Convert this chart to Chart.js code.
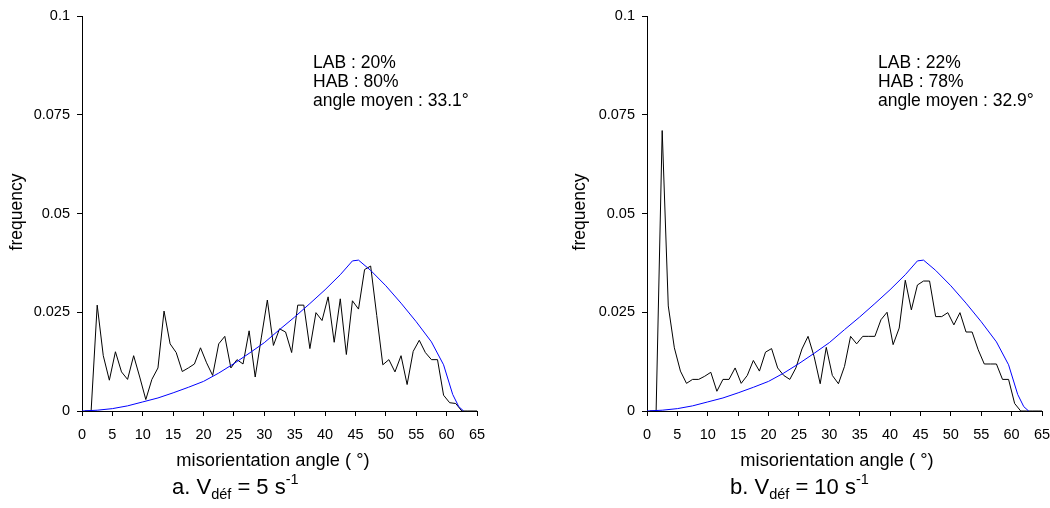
<!DOCTYPE html>
<html>
<head>
<meta charset="utf-8">
<script src="https://cdn.jsdelivr.net/npm/chart.js@4.4.1/dist/chart.umd.min.js"></script>
<style>
  html, body { margin: 0; padding: 0; background: #fff; overflow: hidden; }
  .panel { position: absolute; top: 0; width: 525px; height: 508px; }
</style>
</head>
<body>
<div class="panel" style="left:0"><canvas id="chartA" width="525" height="508"></canvas></div>
<div class="panel" style="left:525px"><canvas id="chartB" width="525" height="508"></canvas></div>
<script>
// bin centres of the misorientation histograms (degrees)
const binCenters = [
  0.5, 1.5, 2.5, 3.5, 4.5, 5.5, 6.5, 7.5, 8.5, 9.5,
  10.5, 11.5, 12.5, 13.5, 14.5, 15.5, 16.5, 17.5, 18.5, 19.5,
  20.5, 21.5, 22.5, 23.5, 24.5, 25.5, 26.5, 27.5, 28.5, 29.5,
  30.5, 31.5, 32.5, 33.5, 34.5, 35.5, 36.5, 37.5, 38.5, 39.5,
  40.5, 41.5, 42.5, 43.5, 44.5, 45.5, 46.5, 47.5, 48.5, 49.5,
  50.5, 51.5, 52.5, 53.5, 54.5, 55.5, 56.5, 57.5, 58.5, 59.5,
  60.5, 61.5, 62.5, 63.5, 64.5
];

// a. V = 5 s-1
const freqA = [
  0, 0, 0.0268, 0.0140, 0.0078, 0.0150, 0.0099, 0.0080, 0.0140, 0.0086,
  0.0029, 0.0080, 0.0109, 0.0253, 0.0170, 0.0148, 0.0100, 0.0109, 0.0119, 0.0160,
  0.0122, 0.0090, 0.0170, 0.0189, 0.0109, 0.0130, 0.0119, 0.0203, 0.0086, 0.0185,
  0.0281, 0.0166, 0.0208, 0.0200, 0.0148, 0.0268, 0.0268, 0.0158, 0.0249, 0.0229,
  0.0289, 0.0174, 0.0284, 0.0143, 0.0279, 0.0258, 0.0358, 0.0367, 0.0242, 0.0117,
  0.0130, 0.0099, 0.0140, 0.0067, 0.0151, 0.0179, 0.0148, 0.0130, 0.0130, 0.0040,
  0.0021, 0.0019, 0, 0, 0
];

// b. V = 10 s-1
const freqB = [
  0, 0, 0.0710, 0.0266, 0.0160, 0.0101, 0.0070, 0.0080, 0.0080, 0.0088,
  0.0098, 0.0050, 0.0080, 0.0080, 0.0109, 0.0070, 0.0090, 0.0128, 0.0101, 0.0149,
  0.0158, 0.0109, 0.0090, 0.0080, 0.0109, 0.0157, 0.0189, 0.0138, 0.0069, 0.0161,
  0.0090, 0.0069, 0.0113, 0.0189, 0.0170, 0.0189, 0.0189, 0.0189, 0.0231, 0.0250,
  0.0168, 0.0210, 0.0331, 0.0256, 0.0319, 0.0329, 0.0329, 0.0239, 0.0239, 0.0249,
  0.0218, 0.0249, 0.0200, 0.0200, 0.0155, 0.0119, 0.0119, 0.0119, 0.0080, 0.0080,
  0.0019, 0, 0, 0, 0
];

// random (Mackenzie) distribution, blue curve
const mackAngles = [0, 2.5, 5, 7.5, 10, 12.5, 15, 17.5, 20, 22.5, 25, 27.5, 30, 32.5, 35, 37.5,
  40, 42.5, 44.5, 45.5, 47.5, 50, 52.5, 55, 57.5, 59.5, 61, 62, 62.8];
const mackFreq = [0, 0.0002, 0.0006, 0.0013, 0.0023, 0.0033, 0.0046, 0.0060, 0.0075, 0.0096,
  0.0120, 0.0146, 0.0173, 0.0206, 0.0238, 0.0272, 0.0307, 0.0345, 0.0380, 0.0382,
  0.0356, 0.0317, 0.0273, 0.0226, 0.0175, 0.0117, 0.0042, 0.0011, 0];

const yTicks = [0, 0.025, 0.05, 0.075, 0.1];
const xTitle = 'misorientation angle ( \u00b0)';
const yTitle = 'frequency';

const FONT = '"Liberation Sans", Arial, sans-serif';

// draws the axis titles, the LAB/HAB note and the caption
const textPlugin = {
  id: 'panelText',
  afterDraw(chart, args, opts) {
    const ctx = chart.ctx;
    ctx.save();
    ctx.fillStyle = '#000';

    // y title
    ctx.save();
    ctx.translate(opts.yTitleX, 212);
    ctx.rotate(-Math.PI / 2);
    ctx.font = '17.5px ' + FONT;
    ctx.textAlign = 'center';
    ctx.textBaseline = 'middle';
    ctx.fillText(yTitle, 0, 0);
    ctx.restore();

    // x title
    ctx.font = '18.3px ' + FONT;
    ctx.textAlign = 'center';
    ctx.textBaseline = 'alphabetic';
    ctx.fillText(xTitle, opts.xTitleX, 466);

    // note
    ctx.font = '17.5px ' + FONT;
    ctx.textAlign = 'left';
    opts.note.forEach((line, i) => ctx.fillText(line, opts.noteX, 68 + i * 19));

    // caption with subscript / superscript
    let x = opts.capX;
    const base = 494;
    const runs = [
      [opts.capPrefix + 'V', 22, 0],
      ['d\u00e9f', 14.5, 5],
      [' = ' + opts.capValue + ' s', 22, 0],
      ['-1', 14.5, -10]
    ];
    runs.forEach(([t, size, dy]) => {
      ctx.font = size + 'px ' + FONT;
      ctx.fillText(t, x, base + dy);
      x += ctx.measureText(t).width;
    });
    ctx.restore();
  }
};

function makeChart(id, freq, padLeft, padRight, text) {
  const hist = binCenters.map((a, i) => ({ x: a, y: freq[i] }));
  hist.push({ x: 65, y: 0 });
  const mack = mackAngles.map((a, i) => ({ x: a, y: mackFreq[i] }));
  return new Chart(document.getElementById(id), {
    type: 'line',
    data: {
      datasets: [
        { data: hist, borderColor: '#000', borderWidth: 1, pointRadius: 0, tension: 0, order: 2 },
        { data: mack, borderColor: '#0000ff', borderWidth: 1, pointRadius: 0, tension: 0, order: 1 }
      ]
    },
    options: {
      responsive: false,
      animation: false,
      events: [],
      layout: { padding: { left: padLeft, right: padRight, top: 16, bottom: 0 } },
      plugins: { legend: { display: false }, tooltip: { enabled: false }, panelText: text },
      scales: {
        x: {
          type: 'linear', min: 0, max: 65,
          ticks: { stepSize: 5, color: '#000', font: { family: FONT, size: 14.5 }, padding: 10, maxRotation: 0 },
          grid: { drawOnChartArea: false, drawTicks: true, tickLength: 5, color: '#000' },
          border: { color: '#000' },
          afterFit: s => { s.height = 97; s.paddingLeft = 0; s.paddingRight = 0; }
        },
        y: {
          min: 0, max: 0.1,
          afterBuildTicks: s => { s.ticks = yTicks.map(v => ({ value: v })); },
          ticks: { color: '#000', font: { family: FONT, size: 14.5 }, padding: 7,
                   callback: v => String(+v.toFixed(3)) },
          grid: { drawOnChartArea: false, drawTicks: true, tickLength: 5, color: '#000' },
          border: { color: '#000' },
          afterFit: s => { s.width = 82; }
        }
      }
    },
    plugins: [textPlugin]
  });
}

makeChart('chartA', freqA, 0, 48, {
  yTitleX: 17, xTitleX: 273, noteX: 313,
  note: ['LAB : 20%', 'HAB : 80%', 'angle moyen : 33.1\u00b0'],
  capX: 172, capPrefix: 'a. ', capValue: '5'
});
makeChart('chartB', freqB, 40, 8, {
  yTitleX: 55, xTitleX: 312, noteX: 353,
  note: ['LAB : 22%', 'HAB : 78%', 'angle moyen : 32.9\u00b0'],
  capX: 205, capPrefix: 'b. ', capValue: '10'
});
</script>
</body>
</html>
